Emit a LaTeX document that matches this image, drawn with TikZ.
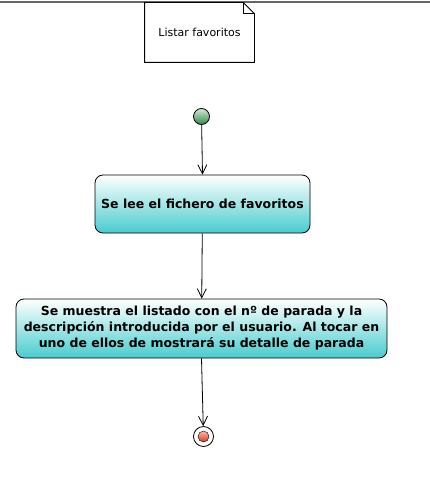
\documentclass[tikz,border=0pt]{standalone}
\usepackage{fontspec}
\setmainfont{DejaVu Sans}
\usetikzlibrary{arrows.meta,positioning}
\definecolor{actfill}{RGB}{72,204,206}
\definecolor{greentop}{RGB}{205,235,210}
\definecolor{greenbottom}{RGB}{55,135,75}
\definecolor{redtop}{RGB}{252,185,165}
\definecolor{redbottom}{RGB}{225,55,35}
\tikzset{
    action/.style={draw, rounded corners=8pt, top color=white, bottom color=actfill,
        align=center, font=\fontsize{12.5}{16}\selectfont\bfseries, inner sep=0pt},
    flow/.style={-{Straight Barb[length=9pt,width=9pt]}},
    startnode/.style={circle, draw, minimum size=16pt, inner sep=0pt,
        top color=greentop, bottom color=greenbottom},
    stopnode/.style={circle, draw, minimum size=20pt, inner sep=0pt, fill=white}
}
\begin{document}
\begin{tikzpicture}[x=1pt, y=-1pt, line width=0.8pt]
    \useasboundingbox (0,0) rectangle (430,492);
    \draw [gray!80!black, line width=2pt] (0,2) -- (430,2);
    % note
    \node [minimum width=109pt, minimum height=59pt, inner sep=0pt,
           font=\fontsize{11}{13}\selectfont] (note) at (199.5,32.5) {Listar favoritos};
    \draw (note.north west) -- ([xshift=-11pt]note.north east)
          -- ([yshift=-11pt]note.north east) -- (note.south east)
          -- (note.south west) -- cycle;
    \draw ([xshift=-11pt]note.north east) -- ([xshift=-11pt,yshift=-11pt]note.north east)
          -- ([yshift=-11pt]note.north east);
    % activity
    \node [startnode] (start) at (201.5,116.5) {};
    \node [action, minimum width=215pt, minimum height=58pt] (read) at (202.5,204)
        {Se lee el fichero de favoritos};
    \node [action, minimum width=371pt, minimum height=59pt] (list) at (201.5,328.5)
        {Se muestra el listado con el nº de parada y la\\
         descripción introducida por el usuario. Al tocar en\\
         uno de ellos de mostrará su detalle de parada};
    \node [stopnode] (stop) at (203.5,436.5) {};
    \draw [top color=redtop, bottom color=redbottom, line width=0.4pt]
        (stop.center) circle [radius=5.5pt];
    \draw [flow] (start) -- (read.north);
    \draw [flow] (read) -- (list);
    \draw [flow] (list.south) -- (stop);
\end{tikzpicture}
\end{document}
